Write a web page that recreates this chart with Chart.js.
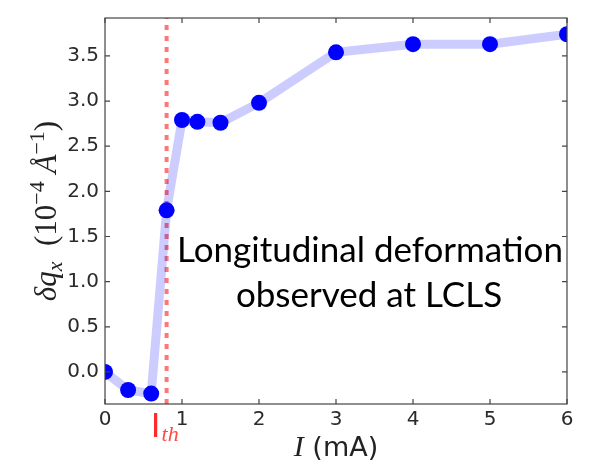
<!DOCTYPE html>
<html>
<head>
<meta charset="utf-8">
<script src="https://cdn.jsdelivr.net/npm/chart.js@4"></script>
<style>
  html, body { margin: 0; padding: 0; background: #fff; }
  #wrap { width: 600px; height: 465px; }
</style>
</head>
<body>
<div id="wrap"><canvas id="deformChart" width="600" height="465"></canvas></div>
<script>
// beam current I (mA) against the measured shift dq_x (1e-4 / Angstrom)
const currentMA = [0, 0.3, 0.6, 0.8, 1.0, 1.2, 1.5, 2, 3, 4, 5, 6];
const deltaQx = [0, -0.2, -0.24, 1.79, 2.79, 2.77, 2.76, 2.98, 3.54, 3.63, 3.63, 3.74];
const xTicks = [0, 1, 2, 3, 4, 5, 6];
const yTicks = [0, 0.5, 1, 1.5, 2, 2.5, 3, 3.5];
const thresholdI = 0.8;
const yRange = [-0.355, 3.92];

const tickFont = { family: 'DejaVu Sans', size: 20 };
const axisColor = '#444';

// frame on all four sides with short inward ticks
const framePlugin = {
    id: 'frame',
    afterDraw(chart) {
        const { ctx, chartArea: a, scales } = chart;
        ctx.save();
        ctx.strokeStyle = axisColor;
        ctx.lineWidth = 1.2;
        ctx.strokeRect(a.left, a.top, a.right - a.left, a.bottom - a.top);
        const len = 5;
        ctx.beginPath();
        xTicks.forEach(v => {
            const px = scales.x.getPixelForValue(v);
            ctx.moveTo(px, a.bottom); ctx.lineTo(px, a.bottom - len);
            ctx.moveTo(px, a.top); ctx.lineTo(px, a.top + len);
        });
        yTicks.forEach(v => {
            const py = scales.y.getPixelForValue(v);
            ctx.moveTo(a.left, py); ctx.lineTo(a.left + len, py);
            ctx.moveTo(a.right, py); ctx.lineTo(a.right - len, py);
        });
        ctx.stroke();
        ctx.restore();
    }
};

// draws a run of [text, font, shift] pieces along the baseline, centred on 0
function drawRun(ctx, pieces) {
    let total = 0;
    pieces.forEach(p => { ctx.font = p[1]; total += ctx.measureText(p[0]).width; });
    let x = -total / 2;
    pieces.forEach(p => {
        ctx.font = p[1];
        ctx.fillText(p[0], x, p[2] || 0);
        x += ctx.measureText(p[0]).width;
    });
}

// axis titles, threshold label and the note inside the plot
const textPlugin = {
    id: 'texts',
    afterDraw(chart) {
        const { ctx, chartArea: a, scales } = chart;
        ctx.save();
        ctx.textBaseline = 'alphabetic';
        ctx.textAlign = 'left';

        // y title, rotated
        ctx.save();
        ctx.fillStyle = '#222';
        ctx.translate(56, (a.top + a.bottom) / 2);
        ctx.rotate(-Math.PI / 2);
        drawRun(ctx, [
            ['δq', 'italic 31px "Liberation Serif"'],
            ['x', 'italic 22px "Liberation Serif"', 6],
            ['  (10', '31px "Liberation Serif"'],
            ['−4', '22px "Liberation Serif"', -12],
            [' Å', 'italic 31px "Liberation Serif"'],
            ['−1', '22px "Liberation Serif"', -12],
            [')', '31px "Liberation Serif"']
        ]);
        ctx.restore();

        // x title
        ctx.save();
        ctx.fillStyle = '#222';
        ctx.translate((a.left + a.right) / 2, 456);
        drawRun(ctx, [
            ['I', 'italic 30px "Liberation Serif"'],
            [' (mA)', '27px "DejaVu Sans"']
        ]);
        ctx.restore();

        // threshold current label under the dotted line
        const tx = scales.x.getPixelForValue(thresholdI);
        ctx.fillStyle = '#ff2a2a';
        ctx.font = '33px Lato';
        ctx.textAlign = 'center';
        ctx.fillText('I', tx - 11, 437);
        ctx.textAlign = 'left';
        ctx.fillStyle = '#ff4a4a';
        ctx.font = 'italic 22px "Liberation Serif"';
        ctx.fillText('th', tx - 5, 441);

        // note
        ctx.fillStyle = '#000';
        ctx.textAlign = 'center';
        ctx.font = '35px Lato';
        ctx.fillText('Longitudinal deformation', 370, 262);
        ctx.fillText('observed at LCLS', 369, 307);
        ctx.restore();
    }
};

const ctx = document.getElementById('deformChart').getContext('2d');
const deformChart = new Chart(ctx, {
    type: 'scatter',
    data: {
        datasets: [{
            label: 'dq_x',
            data: currentMA.map((v, i) => ({ x: v, y: deltaQx[i] })),
            showLine: true,
            borderColor: 'rgba(0, 0, 255, 0.2)',
            borderWidth: 9,
            borderJoinStyle: 'round',
            borderCapStyle: 'round',
            pointRadius: 8,
            pointBorderWidth: 0,
            pointBackgroundColor: '#0000ff',
            clip: 0,
            order: 1
        }, {
            label: 'I_th',
            data: [{ x: thresholdI, y: yRange[0] }, { x: thresholdI, y: yRange[1] }],
            showLine: true,
            borderColor: 'rgba(255, 60, 60, 0.7)',
            borderWidth: 4,
            borderDash: [5, 6],
            pointRadius: 0,
            clip: 0,
            order: 2
        }]
    },
    options: {
        responsive: false,
        animation: false,
        layout: { padding: { top: 7, right: 33, left: 0, bottom: 0 } },
        plugins: {
            legend: { display: false },
            tooltip: { enabled: false }
        },
        scales: {
            x: {
                type: 'linear',
                min: 0,
                max: 6,
                grid: { display: false, drawTicks: false },
                border: { display: false },
                afterBuildTicks: scale => { scale.ticks = xTicks.map(v => ({ value: v })); },
                afterFit: scale => { scale.height = 61; },
                ticks: {
                    font: tickFont,
                    color: '#2a2a2a',
                    padding: 4,
                    maxRotation: 0,
                    callback: v => String(v)
                }
            },
            y: {
                type: 'linear',
                min: yRange[0],
                max: yRange[1],
                grid: { display: false, drawTicks: false },
                border: { display: false },
                afterBuildTicks: scale => { scale.ticks = yTicks.map(v => ({ value: v })); },
                afterFit: scale => { scale.width = 105; },
                ticks: {
                    font: tickFont,
                    color: '#2a2a2a',
                    padding: 6,
                    callback: v => v.toFixed(1)
                }
            }
        }
    },
    plugins: [framePlugin, textPlugin]
});
</script>
</body>
</html>
